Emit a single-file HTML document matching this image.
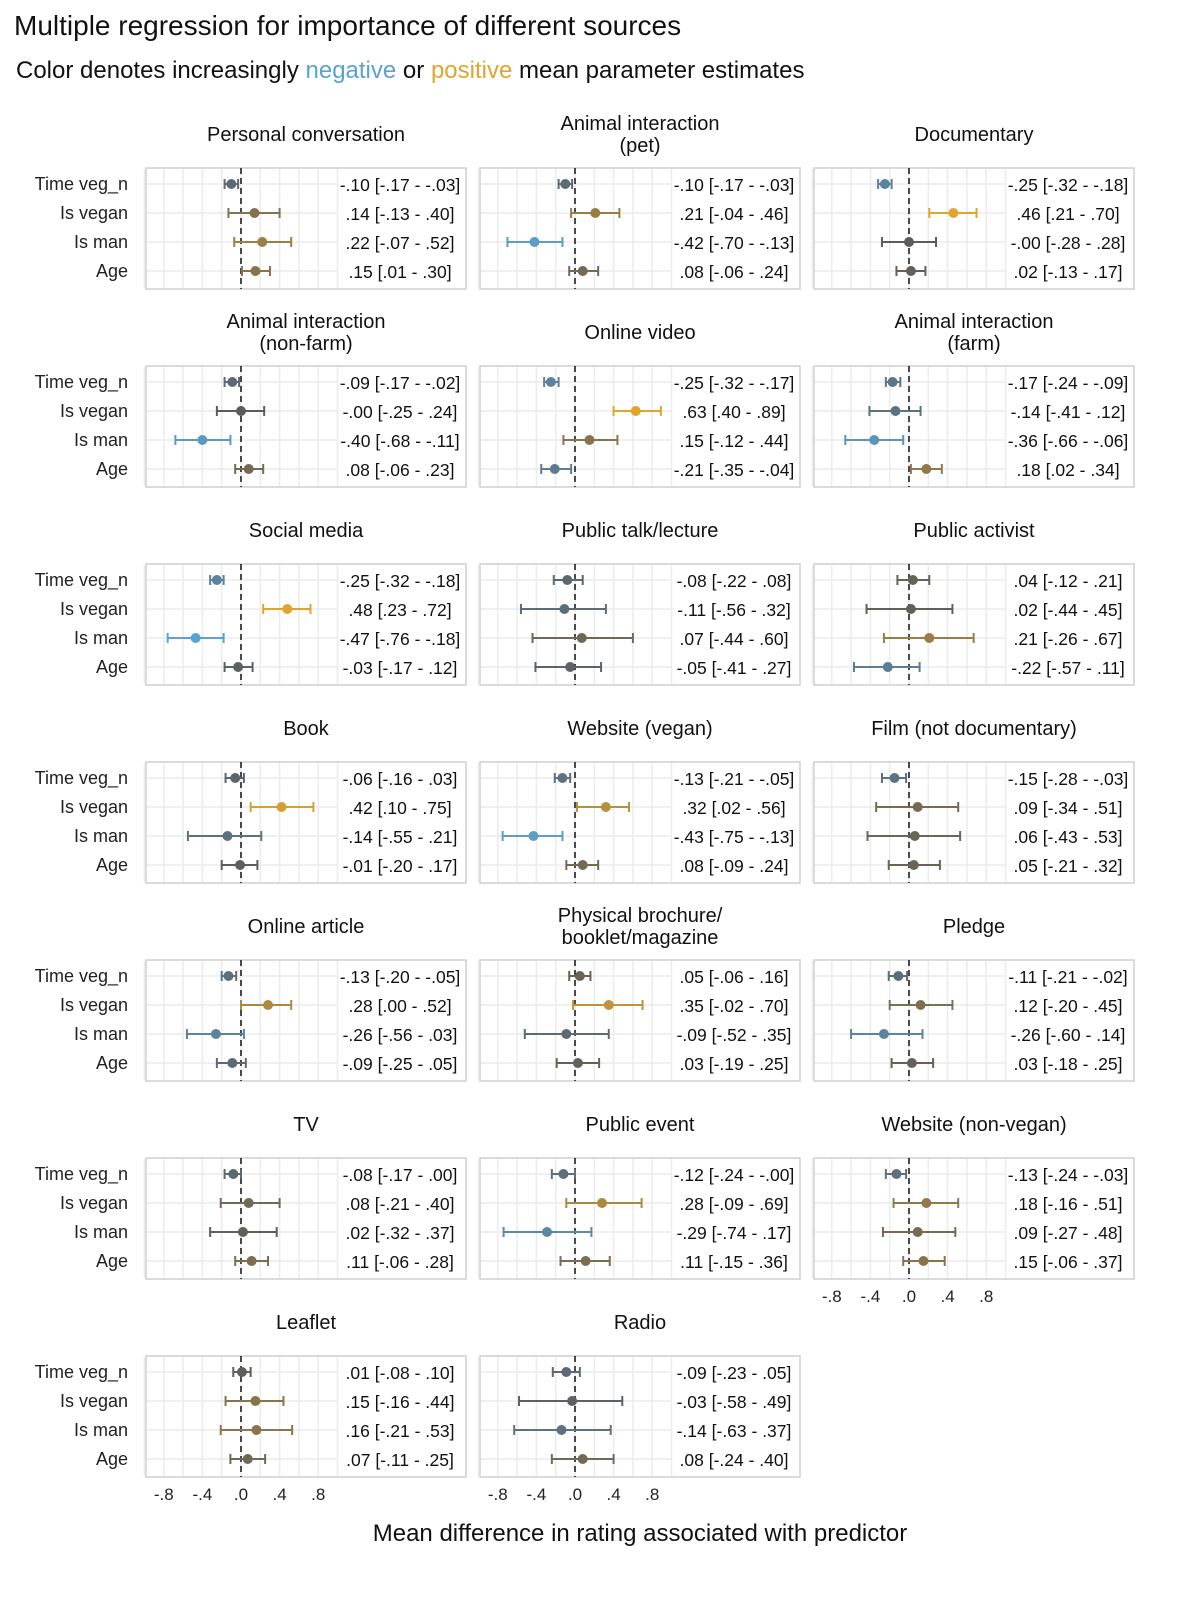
<!DOCTYPE html>
<html><head><meta charset="utf-8"><style>
body{margin:0;background:#fff;}
svg{display:block;font-family:"Liberation Sans",sans-serif;}
</style></head><body>
<svg id="chart" width="1200" height="1600" viewBox="0 0 1200 1600" xmlns="http://www.w3.org/2000/svg">
<text x="14" y="35" font-size="28" fill="#111">Multiple regression for importance of different sources</text>
<text x="16" y="78" font-size="24" fill="#111">Color denotes increasingly <tspan fill="#5ba3cf">negative</tspan> or <tspan fill="#e0a52f">positive</tspan> mean parameter estimates</text>
<text x="640" y="1541" font-size="24" fill="#111" text-anchor="middle">Mean difference in rating associated with predictor</text>
</svg>
<script>
const panelTitles = [["Personal conversation"],["Animal interaction","(pet)"],["Documentary"],["Animal interaction","(non-farm)"],["Online video"],["Animal interaction","(farm)"],["Social media"],["Public talk/lecture"],["Public activist"],["Book"],["Website (vegan)"],["Film (not documentary)"],["Online article"],["Physical brochure/","booklet/magazine"],["Pledge"],["TV"],["Public event"],["Website (non-vegan)"],["Leaflet"],["Radio"]];
const predictors = ["Time veg_n","Is vegan","Is man","Age"];
const estimates = [[-.10,.14,.22,.15],[-.10,.21,-.42,.08],[-.25,.46,-0,.02],[-.09,-0,-.40,.08],[-.25,.63,.15,-.21],[-.17,-.14,-.36,.18],[-.25,.48,-.47,-.03],[-.08,-.11,.07,-.05],[.04,.02,.21,-.22],[-.06,.42,-.14,-.01],[-.13,.32,-.43,.08],[-.15,.09,.06,.05],[-.13,.28,-.26,-.09],[.05,.35,-.09,.03],[-.11,.12,-.26,.03],[-.08,.08,.02,.11],[-.12,.28,-.29,.11],[-.13,.18,.09,.15],[.01,.15,.16,.07],[-.09,-.03,-.14,.08]];
const lower = [[-.17,-.13,-.07,.01],[-.17,-.04,-.70,-.06],[-.32,.21,-.28,-.13],[-.17,-.25,-.68,-.06],[-.32,.40,-.12,-.35],[-.24,-.41,-.66,.02],[-.32,.23,-.76,-.17],[-.22,-.56,-.44,-.41],[-.12,-.44,-.26,-.57],[-.16,.10,-.55,-.20],[-.21,.02,-.75,-.09],[-.28,-.34,-.43,-.21],[-.20,.00,-.56,-.25],[-.06,-.02,-.52,-.19],[-.21,-.20,-.60,-.18],[-.17,-.21,-.32,-.06],[-.24,-.09,-.74,-.15],[-.24,-.16,-.27,-.06],[-.08,-.16,-.21,-.11],[-.23,-.58,-.63,-.24]];
const upper = [[-.03,.40,.52,.30],[-.03,.46,-.13,.24],[-.18,.70,.28,.17],[-.02,.24,-.11,.23],[-.17,.89,.44,-.04],[-.09,.12,-.06,.34],[-.18,.72,-.18,.12],[.08,.32,.60,.27],[.21,.45,.67,.11],[.03,.75,.21,.17],[-.05,.56,-.13,.24],[-.03,.51,.53,.32],[-.05,.52,.03,.05],[.16,.70,.35,.25],[-.02,.45,.14,.25],[.00,.40,.37,.28],[-0,.69,.17,.36],[-.03,.51,.48,.37],[.10,.44,.53,.25],[.05,.49,.37,.40]];
const tickValues = [-.8,-.4,0,.4,.8];
const axisTickLabels = ["-.8","-.4",".0",".4",".8"];

const NS="http://www.w3.org/2000/svg";
const svg=document.getElementById('chart');
const PW=320, PH=121, COLX=[146,480,814], ROW0=168, RSTEP=198, UNIT=96.5, ZOFF=95;
function mk(tag,attrs,parent){const e=document.createElementNS(NS,tag);for(const k in attrs)e.setAttribute(k,attrs[k]);(parent||svg).appendChild(e);return e;}
function fmt(v){const neg=v<0||Object.is(v,-0);return (neg?'-':'')+Math.abs(v).toFixed(2).replace(/^0/,'');}
function lerp(a,b,t){return a.map((x,i)=>Math.round(x+(b[i]-x)*t));}
function color(v){const g=[92,92,92];let t=Math.min(1,Math.abs(v)/0.46);return 'rgb('+(v<0?lerp(g,[91,163,207],t):lerp(g,[224,165,47],t)).join(',')+')';}

panelTitles.forEach((title,p)=>{
  const col=p%3,row=Math.floor(p/3),x0=COLX[col],y0=ROW0+row*RSTEP;
  const xs=v=>x0+ZOFF+v*UNIT;
  const ys=i=>y0+16+i*29;
  const g=mk('g',{});
  
  
  mk('rect',{x:x0,y:y0,width:PW,height:PH,fill:'#fff',stroke:'#cfcfcf','stroke-width':1.5},g);
  for(let v=-1;v<=1.001;v+=0.2){mk('line',{x1:xs(v),x2:xs(v),y1:y0+1,y2:y0+PH-1,stroke:'#ececec','stroke-width':1.6},g);}
  for(let i=0;i<4;i++)mk('line',{x1:x0+1,x2:xs(1),y1:ys(i),y2:ys(i),stroke:'#ececec','stroke-width':1.6},g);
  const z=mk('line',{x1:xs(0),x2:xs(0),y1:y0,y2:y0+PH,stroke:'#111','stroke-width':1.5,'stroke-dasharray':'6,4'},g);
  
  
  const tt=mk('text',{x:x0+PW/2,'text-anchor':'middle','font-size':20,fill:'#111'},g);
  
  
  if(title.length===1){tt.setAttribute('y',y0-27);tt.textContent=title[0];}
  else{title.forEach((s,k)=>{const ts=mk('tspan',{x:x0+PW/2,y:y0-38+k*22},tt);ts.textContent=s;});}
  if(col===0){predictors.forEach((s,i)=>{const t=mk('text',{x:x0-18,y:ys(i)+6,'text-anchor':'end','font-size':18,fill:'#222'},g);t.textContent=s;
    
    });}
  for(let i=0;i<4;i++){
    const est=estimates[p][i],lo=lower[p][i],hi=upper[p][i],c=color(est);
    const eg=mk('g',{},g);
    
    
    mk('line',{x1:xs(lo),x2:xs(hi),y1:ys(i),y2:ys(i),stroke:c,'stroke-width':2},eg);
    mk('line',{x1:xs(lo),x2:xs(lo),y1:ys(i)-5,y2:ys(i)+5,stroke:c,'stroke-width':2},eg);
    mk('line',{x1:xs(hi),x2:xs(hi),y1:ys(i)-5,y2:ys(i)+5,stroke:c,'stroke-width':2},eg);
    mk('circle',{cx:xs(est),cy:ys(i),r:5,fill:c},eg);
    const lt=mk('text',{x:x0+254,y:ys(i)+7,'text-anchor':'middle','font-size':17.5,fill:'#111'},g);
    lt.textContent=fmt(est)+' ['+fmt(lo)+' - '+fmt(hi)+']';
    
    
  }
  const below=p+3>=panelTitles.length;
  if(below){tickValues.forEach((v,k)=>{const t=mk('text',{x:xs(v),y:y0+PH+23,'text-anchor':'middle','font-size':17,fill:'#222'},g);t.textContent=axisTickLabels[k];
    
    });}
});
</script>
</body></html>
